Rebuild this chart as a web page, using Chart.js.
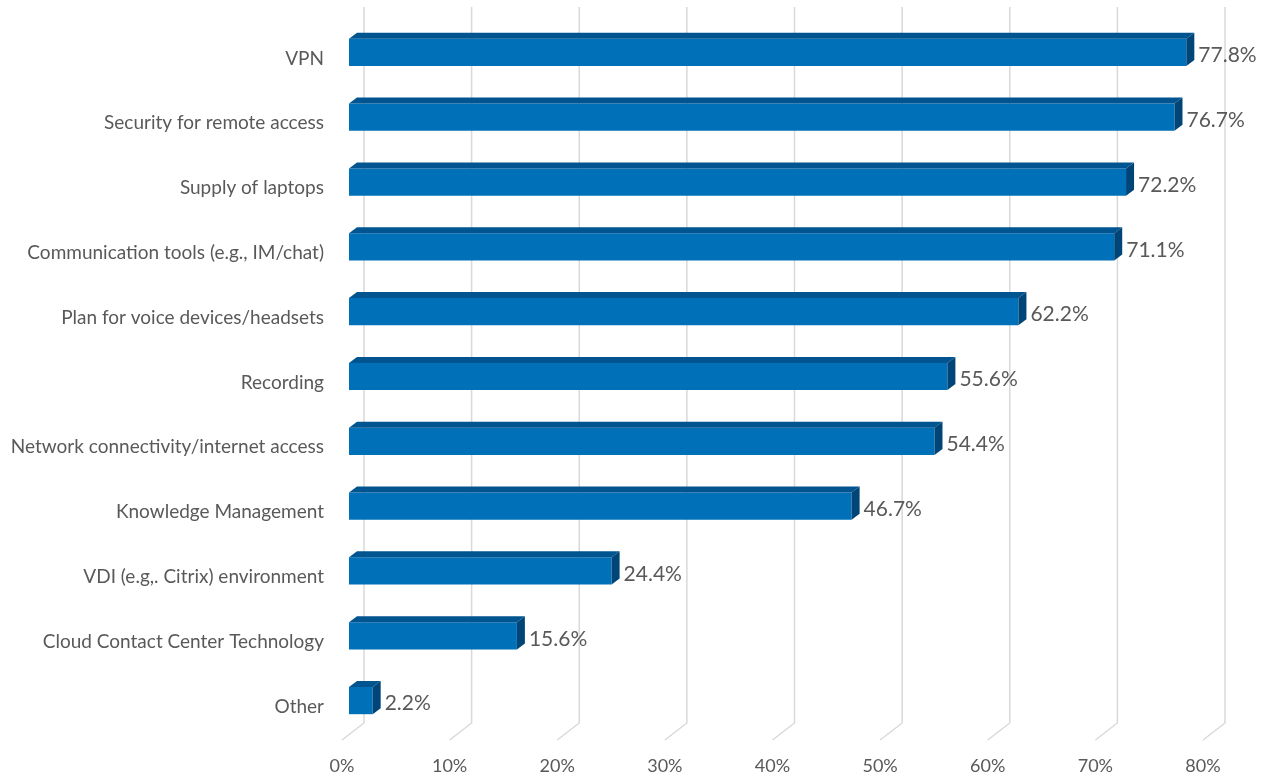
<!DOCTYPE html>
<html>
<head>
<meta charset="utf-8">
<title>Remote work readiness</title>
<script src="https://cdn.jsdelivr.net/npm/chart.js@4/dist/chart.umd.min.js"></script>
<style>
  html, body { margin: 0; padding: 0; background: #fff; }
  canvas { display: block; }
</style>
</head>
<body>
<canvas id="barChart" width="1268" height="778"></canvas>
<script>
// survey items, top to bottom
var items = [
    'VPN',
    'Security for remote access',
    'Supply of laptops',
    'Communication tools (e.g., IM/chat)',
    'Plan for voice devices/headsets',
    'Recording',
    'Network connectivity/internet access',
    'Knowledge Management',
    'VDI (e.g,. Citrix) environment',
    'Cloud Contact Center Technology',
    'Other'
];
var shares = [77.8, 76.7, 72.2, 71.1, 62.2, 55.6, 54.4, 46.7, 24.4, 15.6, 2.2];
var axisTicks = [0, 10, 20, 30, 40, 50, 60, 70, 80];

var textGrey = '#595959';
var fontFamily = 'Lato, "Open Sans", sans-serif';

// fake 3D: back wall gridlines plus top/side faces on each bar
var depth3d = {
    id: 'depth3d',
    beforeDatasetsDraw(chart) {
        var ctx = chart.ctx;
        var xs = chart.scales.x;
        ctx.save();
        ctx.strokeStyle = '#d9d9d9';
        ctx.lineWidth = 1.5;
        axisTicks.forEach(function (t) {
            var px = xs.getPixelForValue(t);
            ctx.beginPath();
            ctx.moveTo(px + 15, 7);
            ctx.lineTo(px + 15, 723);
            ctx.lineTo(px - 7, 740);
            ctx.stroke();
        });
        ctx.restore();
    },
    afterDatasetsDraw(chart) {
        var ctx = chart.ctx;
        var meta = chart.getDatasetMeta(0);
        var dx = 8, dy = 6;
        ctx.save();
        meta.data.forEach(function (bar, i) {
            var top = bar.y - bar.height / 2;
            var bottom = bar.y + bar.height / 2;
            // top face
            ctx.fillStyle = '#00548f';
            ctx.beginPath();
            ctx.moveTo(bar.base, top);
            ctx.lineTo(bar.base + dx, top - dy);
            ctx.lineTo(bar.x + dx, top - dy);
            ctx.lineTo(bar.x, top);
            ctx.closePath();
            ctx.fill();
            // side face
            ctx.fillStyle = '#004577';
            ctx.beginPath();
            ctx.moveTo(bar.x, top);
            ctx.lineTo(bar.x + dx, top - dy);
            ctx.lineTo(bar.x + dx, bottom - dy);
            ctx.lineTo(bar.x, bottom);
            ctx.closePath();
            ctx.fill();
            // value label
            ctx.fillStyle = textGrey;
            ctx.font = '21px ' + fontFamily;
            ctx.textAlign = 'left';
            ctx.textBaseline = 'middle';
            ctx.fillText(shares[i].toFixed(1) + '%', bar.x + dx + 4, bar.y + 3);
        });
        ctx.restore();
    }
};

var ctx = document.getElementById('barChart').getContext('2d');
new Chart(ctx, {
    type: 'bar',
    data: {
        labels: items,
        datasets: [{
            data: shares,
            backgroundColor: '#0070b8',
            borderWidth: 0,
            barPercentage: 0.42,
            categoryPercentage: 1
        }]
    },
    options: {
        indexAxis: 'y',
        responsive: false,
        animation: false,
        layout: { padding: { top: 20, right: 58, left: 0, bottom: 0 } },
        plugins: {
            legend: { display: false },
            tooltip: { enabled: false }
        },
        scales: {
            x: {
                min: 0,
                max: 80,
                afterFit(scale) { scale.height = 45; },
                afterBuildTicks(scale) {
                    scale.ticks = axisTicks.map(function (v) { return { value: v }; });
                },
                grid: { display: false, drawTicks: false },
                border: { display: false },
                ticks: {
                    callback: function (v) { return v + '%'; },
                    color: textGrey,
                    font: { family: fontFamily, size: 18 },
                    labelOffset: -7,
                    padding: 22,
                    maxRotation: 0
                }
            },
            y: {
                afterFit(scale) {
                    scale.width = 349;
                    scale.paddingTop = 0;
                    scale.paddingBottom = 0;
                },
                grid: { display: false, drawTicks: false },
                border: { display: false },
                ticks: {
                    color: textGrey,
                    font: { family: fontFamily, size: 19 },
                    padding: 25,
                    labelOffset: 6
                }
            }
        }
    },
    plugins: [depth3d]
});
</script>
</body>
</html>
